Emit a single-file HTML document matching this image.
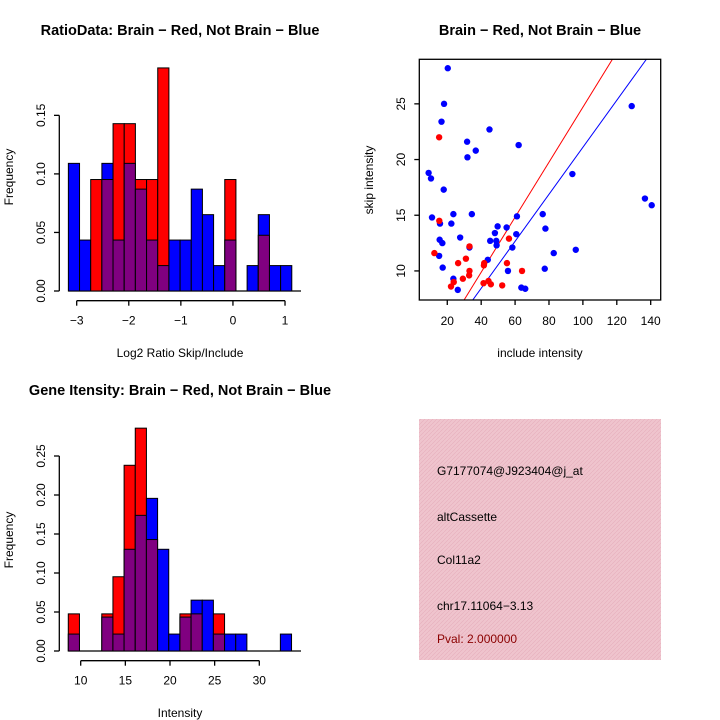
<!DOCTYPE html>
<html><head><meta charset="utf-8"><style>
html,body{margin:0;padding:0;background:#fff;}
svg{display:block;font-family:"Liberation Sans",Arial,sans-serif;}
</style></head><body>
<svg id="chart" width="720" height="720" viewBox="0 0 720 720">
<rect x="0" y="0" width="720" height="720" fill="#fff"/>
<g id="p1"></g>
<g id="p2"></g>
<g id="p3"></g>
<g>
<defs><pattern id="hatch" width="4" height="4" patternUnits="userSpaceOnUse"><rect width="4" height="4" fill="#efc4cd"/><path d="M0 4L4 0" stroke="#e6aebb" stroke-width="0.6"/></pattern></defs>
<rect x="419" y="419" width="242" height="241" fill="url(#hatch)"/>
<text x="437" y="475" font-size="12" fill="#000">G7177074@J923404@j_at</text>
<text x="437" y="521" font-size="12" fill="#000">altCassette</text>
<text x="437" y="564" font-size="12" fill="#000">Col11a2</text>
<text x="437" y="610" font-size="12" fill="#000">chr17.11064−3.13</text>
<text x="437" y="643" font-size="12" fill="#8b0000">Pval: 2.000000</text>
</g>
</svg>
<script>
// Ratio histogram data
const ratioBinStart = -3.16;
const ratioBinWidth = 0.2145;
const ratioBlue = [0.109,0.0435,0,0.109,0.0435,0.109,0.087,0.0435,0.0217,0.0435,0.0435,0.087,0.0652,0.0217,0.0435,0,0.0217,0.0652,0.0217,0.0217];
const ratioRed  = [0,0,0.0952,0.0952,0.1429,0.1429,0.0952,0.0952,0.1905,0,0,0,0,0,0.0952,0,0,0.0476,0,0];
const ratioXTicks = [-3,-2,-1,0,1];
const ratioYTicks = ["0.00","0.05","0.10","0.15"];
// Intensity histogram data
const intBinStart = 8.61;
const intBinWidth = 1.25;
const intBlue = [0.0217,0,0,0.0435,0.0217,0.1304,0.1739,0.1957,0.1304,0.0217,0.0435,0.0652,0.0652,0.0217,0.0217,0.0217,0,0,0,0.0217];
const intRed  = [0.0476,0,0,0.0476,0.0952,0.2381,0.2857,0.1429,0,0,0.0476,0.0476,0,0.0476,0,0,0,0,0,0];
const intXTicks = [10,15,20,25,30];
const intYTicks = ["0.00","0.05","0.10","0.15","0.20","0.25"];
// Scatter data
const blueInclude = [20.3,18.1,16.6,44.9,31.7,62.1,36.8,31.9,9.0,10.4,93.8,17.9,128.8,136.6,140.6,11.0,23.6,34.5,15.7,22.4,61.1,76.3,77.9,49.7,55.0,48.1,60.7,27.6,45.3,48.9,15.5,17.1,49.1,33.1,58.4,95.8,82.8,15.2,43.9,17.3,77.5,55.8,23.6,63.7,66.0,26.2];
const blueSkip = [28.2,25.0,23.4,22.7,21.6,21.3,20.8,20.2,18.8,18.3,18.7,17.3,24.8,16.5,15.9,14.8,15.1,15.1,14.25,14.25,14.9,15.1,13.8,14.0,13.9,13.4,13.3,13.0,12.7,12.7,12.8,12.5,12.3,12.1,12.1,11.9,11.6,11.35,11.0,10.3,10.2,10.0,9.3,8.5,8.4,8.3];
const redInclude = [15.2,15.3,12.4,33.1,56.4,31.0,26.4,41.8,41.6,55.2,33.1,32.9,64.1,29.2,23.8,22.2,41.4,44.3,45.7,52.4];
const redSkip = [22.0,14.5,11.6,12.2,12.9,11.1,10.7,10.7,10.5,10.7,10.0,9.6,10.0,9.3,9.0,8.6,8.9,9.1,8.8,8.7];
const lineSlopes = [0.247,0.211];
const scatterXTicks = [20,40,60,80,100,120,140];
const scatterYTicks = [10,15,20,25];

const NS="http://www.w3.org/2000/svg";
function mk(parent,tag,attrs,text){const e=document.createElementNS(NS,tag);for(const k in attrs)e.setAttribute(k,attrs[k]);if(text!==undefined)e.textContent=text;parent.appendChild(e);return e;}

function histogram(g,cfg){
  const sx=v=>cfg.x0px+(v-cfg.x0v)*cfg.xpu;
  const sy=v=>cfg.base-v*cfg.ypu;
  const bw=cfg.bw*cfg.xpu;
  // baseline
  const bl=mk(g,'line',{x1:sx(cfg.start),x2:cfg.baseEnd,y1:cfg.base,y2:cfg.base,stroke:'#000','stroke-width':1.3});
  
  
  cfg.blue.forEach((b,i)=>{
    const r=cfg.red[i];
    const x=sx(cfg.start+i*cfg.bw);
    const mx=Math.max(b,r), mn=Math.min(b,r);
    if(mx>0){
      const el=mk(g,'rect',{x:x,y:sy(mx),width:bw,height:mx*cfg.ypu,fill:b>=r?'#0000ff':'#ff0000',stroke:'#000','stroke-width':1});
      
      
    }
    if(mn>0){
      const el=mk(g,'rect',{x:x,y:sy(mn),width:bw,height:mn*cfg.ypu,fill:'#800080',stroke:'#000','stroke-width':1});
      
      
    }
  });
  // x axis
  const xa=mk(g,'g',{});
  
  
  const t0=cfg.xticks[0],t1=cfg.xticks[cfg.xticks.length-1];
  mk(xa,'line',{x1:sx(t0),x2:sx(t1),y1:cfg.axY,y2:cfg.axY,stroke:'#000','stroke-width':1.3});
  cfg.xticks.forEach(t=>{
    mk(xa,'line',{x1:sx(t),x2:sx(t),y1:cfg.axY,y2:cfg.axY+5,stroke:'#000','stroke-width':1.3});
    const lb=mk(xa,'text',{x:sx(t),y:cfg.axY+24,'font-size':12,'text-anchor':'middle'},String(t).replace('-','−'));
    
    
  });
  // y axis
  const ya=mk(g,'g',{});
  
  
  const yv=cfg.yticks.map(Number);
  mk(ya,'line',{x1:59.3,x2:59.3,y1:sy(yv[0]),y2:sy(yv[yv.length-1]),stroke:'#000','stroke-width':1.3});
  cfg.yticks.forEach(t=>{
    const y=sy(Number(t));
    mk(ya,'line',{x1:54,x2:59.3,y1:y,y2:y,stroke:'#000','stroke-width':1.3});
    const lb=mk(ya,'text',{x:0,y:0,'font-size':12,'text-anchor':'middle',transform:`translate(45,${y}) rotate(-90)`},t);
    
    
  });
  const yt=mk(g,'text',{x:0,y:0,'font-size':12,'text-anchor':'middle',transform:`translate(13,${cfg.yTitleY}) rotate(-90)`},'Frequency');
  
  
  const xt=mk(g,'text',{x:180,y:cfg.xTitleY,'font-size':12,'text-anchor':'middle'},cfg.xTitle);
  
  
  const tt=mk(g,'text',{x:180,y:cfg.titleY,'font-size':14.5,'font-weight':'bold','text-anchor':'middle'},cfg.title);
  
  
}

histogram(document.getElementById('p1'),{x0px:76.7,x0v:-3,xpu:52.08,base:291,ypu:1171,start:ratioBinStart,bw:ratioBinWidth,
  blue:ratioBlue,red:ratioRed,xticks:ratioXTicks,yticks:ratioYTicks,axY:300.7,baseEnd:301,
  xTitle:'Log2 Ratio Skip/Include',xTitleY:357,yTitleY:177,title:'RatioData: Brain − Red, Not Brain − Blue',titleY:35});
histogram(document.getElementById('p3'),{x0px:80.7,x0v:10,xpu:8.93,base:651,ypu:780,start:intBinStart,bw:intBinWidth,
  blue:intBlue,red:intRed,xticks:intXTicks,yticks:intYTicks,axY:660.7,baseEnd:301,
  xTitle:'Intensity',xTitleY:717,yTitleY:540,title:'Gene Itensity: Brain − Red, Not Brain − Blue',titleY:395});

// scatter
(function(){
  const g=document.getElementById('p2');
  const L=419.3,R=660.7,T=59.3,B=300;
  const xmin=3.5,xmax=145.9,ymin=7.39,ymax=29.0;
  const sx=v=>L+(v-xmin)/(xmax-xmin)*(R-L);
  const sy=v=>B-(v-ymin)/(ymax-ymin)*(B-T);
  mk(g,'defs',{}).innerHTML='<clipPath id="sc"><rect x="'+L+'" y="'+T+'" width="'+(R-L)+'" height="'+(B-T)+'"/></clipPath>';
  const cols=['#ff0000','#0000ff'];
  lineSlopes.forEach((s,i)=>{
    const ln=mk(g,'line',{x1:sx(0),y1:sy(0),x2:sx(200),y2:sy(200*s),stroke:cols[i],'stroke-width':1,'clip-path':'url(#sc)'});
    
    
  });
  blueInclude.forEach((x,i)=>{
    const c=mk(g,'circle',{cx:sx(x),cy:sy(blueSkip[i]),r:3.2,fill:'#0000ff'});
    
    
  });
  redInclude.forEach((x,i)=>{
    const c=mk(g,'circle',{cx:sx(x),cy:sy(redSkip[i]),r:3.2,fill:'#ff0000'});
    
    
  });
  const box=mk(g,'rect',{x:L,y:T,width:R-L,height:B-T,fill:'none',stroke:'#000','stroke-width':1.3});
  
  
  const xa=mk(g,'g',{});
  
  
  scatterXTicks.forEach(t=>{
    mk(xa,'line',{x1:sx(t),x2:sx(t),y1:B,y2:B+5,stroke:'#000','stroke-width':1.3});
    const lb=mk(xa,'text',{x:sx(t),y:B+25,'font-size':12,'text-anchor':'middle'},t);
    
    
  });
  const ya=mk(g,'g',{});
  
  
  scatterYTicks.forEach(t=>{
    mk(ya,'line',{x1:L-5,x2:L,y1:sy(t),y2:sy(t),stroke:'#000','stroke-width':1.3});
    const lb=mk(ya,'text',{x:0,y:0,'font-size':12,'text-anchor':'middle',transform:`translate(405,${sy(t)}) rotate(-90)`},t);
    
    
  });
  const yt=mk(g,'text',{x:0,y:0,'font-size':12,'text-anchor':'middle',transform:`translate(373,180) rotate(-90)`},'skip intensity');
  
  
  const xt=mk(g,'text',{x:540,y:357,'font-size':12,'text-anchor':'middle'},'include intensity');
  
  
  const tt=mk(g,'text',{x:540,y:35,'font-size':14.5,'font-weight':'bold','text-anchor':'middle'},'Brain − Red, Not Brain − Blue');
  
  
})();
</script>
</body></html>
